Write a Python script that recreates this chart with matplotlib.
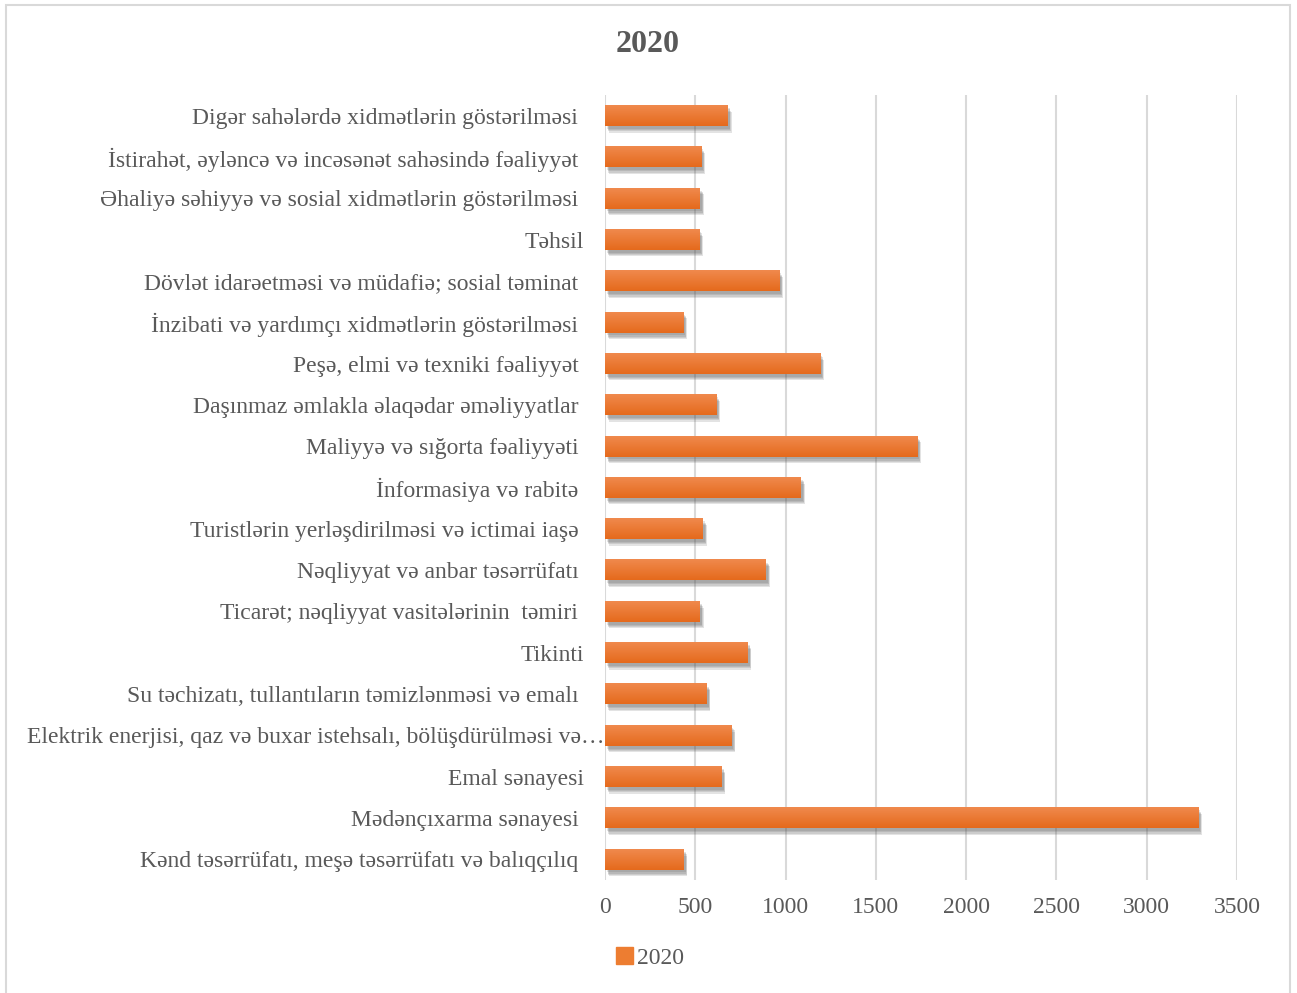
import matplotlib
matplotlib.use("Agg")
import matplotlib.pyplot as plt
import matplotlib.patheffects as pe
from matplotlib.patches import Rectangle
from matplotlib.colors import LinearSegmentedColormap
from matplotlib.transforms import ScaledTranslation
import numpy as np

categories = [
    "Kənd təsərrüfatı, meşə təsərrüfatı və balıqçılıq ",
    "Mədənçıxarma sənayesi ",
    "Emal sənayesi",
    "Elektrik enerjisi, qaz və buxar istehsalı, bölüşdürülməsi və…",
    "Su təchizatı, tullantıların təmizlənməsi və emalı ",
    "Tikinti",
    "Ticarət; nəqliyyat vasitələrinin  təmiri ",
    "Nəqliyyat və anbar təsərrüfatı ",
    "Turistlərin yerləşdirilməsi və ictimai iaşə ",
    "İnformasiya və rabitə ",
    "Maliyyə və sığorta fəaliyyəti ",
    "Daşınmaz əmlakla əlaqədar əməliyyatlar ",
    "Peşə, elmi və texniki fəaliyyət ",
    "İnzibati və yardımçı xidmətlərin göstərilməsi ",
    "Dövlət idarəetməsi və müdafiə; sosial təminat ",
    "Təhsil",
    "Əhaliyə səhiyyə və sosial xidmətlərin göstərilməsi ",
    "İstirahət, əyləncə və incəsənət sahəsində fəaliyyət ",
    "Digər sahələrdə xidmətlərin göstərilməsi ",
]
values_2020 = [436, 3285, 646, 700, 562, 790, 525, 891, 542, 1085,
               1729, 615, 1191, 432, 964, 521, 526, 532, 680]
series_name = "2020"
xticks = [0, 500, 1000, 1500, 2000, 2500, 3000, 3500]

plt.rcParams['font.family'] = ['Liberation Serif', 'DejaVu Serif']

fig = plt.figure(figsize=(12.97, 9.93), dpi=100)
# outer chart border
fig.patches.append(Rectangle((6 / 1297, -0.01), (1290 - 6) / 1297, (993 - 5) / 993 + 0.01,
                             transform=fig.transFigure, fill=False,
                             edgecolor="#D9D9D9", linewidth=1.5))

ax = fig.add_axes([605 / 1297, 1 - 880 / 993, (1237 - 605) / 1297, (880 - 95) / 993])

y = np.arange(len(categories))
bars = ax.barh(y, values_2020, height=0.5, color="#ED7D31", zorder=3, label=series_name)

grad = np.linspace(0, 1, 64).reshape(-1, 1)
cmap = LinearSegmentedColormap.from_list("og", ["#E56A1C", "#F0894D"])
shadow = [pe.SimplePatchShadow(offset=(1.5 + 0.4 * k, -2.0 - 0.9 * k),
                               shadow_rgbFace="#555555", alpha=0.16) for k in range(4)]
for b in bars:
    b.set_path_effects(shadow + [pe.Normal()])
    x0, y0 = b.get_x(), b.get_y()
    w, h = b.get_width(), b.get_height()
    ax.imshow(grad, extent=(x0, x0 + w, y0, y0 + h), aspect="auto",
              cmap=cmap, origin="lower", zorder=4, interpolation="bilinear")

ax.set_xlim(0, 3500)
ax.set_ylim(-0.5, len(categories) - 0.5)
ax.set_xticks(xticks)
ax.set_xticklabels([str(t) for t in xticks])
ax.set_yticks(y)
ylabels = ax.set_yticklabels(categories)
ax.tick_params(axis="both", length=0, labelsize=17, colors="#595959")
ax.tick_params(axis="y", pad=15)
ax.tick_params(axis="x", pad=12)
for s in ax.spines.values():
    s.set_visible(False)
ax.grid(axis="x", color="#D9D9D9", linewidth=1.5, zorder=0)
ax.set_axisbelow(True)

# truncated label runs up to the bar in the original
for lbl in ax.yaxis.get_majorticklabels():
    if lbl.get_text().endswith("…"):
        lbl.set_transform(lbl.get_transform() + ScaledTranslation(0.20, 0, fig.dpi_scale_trans))

fig.text(648 / 1297, 1 - 45 / 993, "2020", ha="center", va="center",
         fontsize=23, fontweight="bold", color="#595959")

fig.legend(handles=[Rectangle((0, 0), 1, 1, color="#ED7D31")], labels=[series_name],
           loc="center", bbox_to_anchor=(650 / 1297, 1 - 958 / 993), frameon=False,
           fontsize=17, handlelength=0.7, handleheight=0.7, handletextpad=0.15,
           labelcolor="#595959")

fig.savefig("out.png", dpi=100)
